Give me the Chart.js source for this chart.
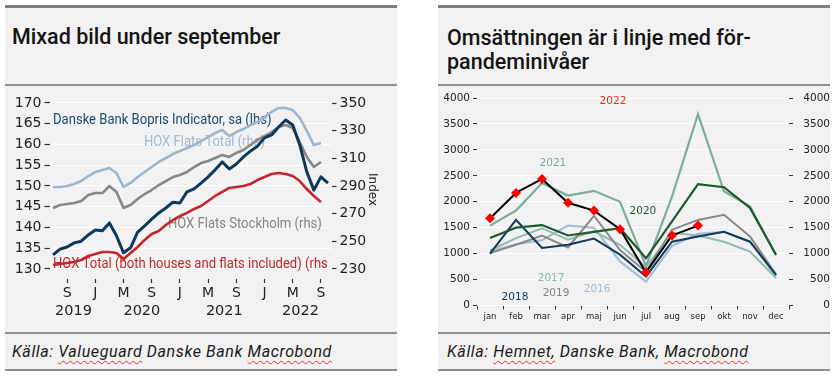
<!DOCTYPE html>
<html>
<head>
<meta charset="utf-8">
<script src="https://cdn.jsdelivr.net/npm/chart.js@4.4.0/dist/chart.umd.min.js"></script>
<style>
html, body { margin: 0; padding: 0; background: #fff; width: 834px; height: 376px; overflow: hidden; }
.panel { position: absolute; top: 5px; width: 392px; height: 366px; background: #f2f2f2; border-top: 3px solid #7f7f7f; box-sizing: border-box; }
.title { position: absolute; top: 17px; font-family: Roboto, sans-serif; font-weight: 500; font-size: 21.5px; line-height: 24px; color: #141414; }
.sep { position: absolute; left: 0; width: 100%; height: 2px; background: #8f8f8f; }
.box { position: absolute; left: 0; top: 79px; width: 392px; height: 244px; }
.src { position: absolute; top: 334px; font-family: Roboto, sans-serif; font-style: italic; font-size: 16px; letter-spacing: 0.6px; line-height: 20px; color: #1a1a1a; }
.src .sp { text-decoration: underline wavy #e03030; text-decoration-thickness: 1px; text-underline-offset: 3px; }
</style>
</head>
<body>
<div class="panel" style="left:5px">
  <div class="title" style="left:7px">Mixad bild under september</div>
  <div class="sep" style="top:76px"></div>
  <div class="box"><canvas id="hoxChart"></canvas></div>
  <div class="sep" style="top:324px"></div>
  <div class="src" style="left:7px">Källa: <span class="sp">Valueguard</span> Danske Bank <span class="sp">Macrobond</span></div>
  <div class="sep" style="top:361px"></div>
</div>
<div class="panel" style="left:438px">
  <div class="title" style="left:9px;top:18px">Omsättningen är i linje med för-<br>pandeminivåer</div>
  <div class="sep" style="top:76px"></div>
  <div class="box"><canvas id="salesChart"></canvas></div>
  <div class="sep" style="top:324px"></div>
  <div class="src" style="left:9px">Källa: <span class="sp">Hemnet,</span> Danske Bank, <span class="sp">Macrobond</span></div>
  <div class="sep" style="top:361px"></div>
</div>
<script>
// left chart: monthly points, Jul 2019 - Oct 2022
const hoxMonths = [
  '2019-07','2019-08','2019-09','2019-10','2019-11','2019-12',
  '2020-01','2020-02','2020-03','2020-04','2020-05','2020-06','2020-07','2020-08','2020-09','2020-10','2020-11','2020-12',
  '2021-01','2021-02','2021-03','2021-04','2021-05','2021-06','2021-07','2021-08','2021-09','2021-10','2021-11','2021-12',
  '2022-01','2022-02','2022-03','2022-04','2022-05','2022-06','2022-07','2022-08','2022-09','2022-10'
];
const tickLetters = { '01': 'J', '05': 'M', '09': 'S' };
const yearLabels = ['2019', '2020', '2021', '2022'];
const yearAt = [2.9, 12.6, 24.3, 35.1];

const bopris = [133.4,134.8,135.3,136.3,136.7,138.2,139.4,139.2,141.1,138.0,133.9,135.1,138.9,140.4,142.0,143.5,144.7,146.1,145.9,148.6,
  149.3,150.7,152.2,153.9,155.8,154.1,155.3,157.0,158.4,159.6,161.6,162.3,164.2,165.9,164.7,159.9,153.4,149.0,152.2,150.7];
const hoxFlatsTotal = [289.3,289.3,290.0,291.4,293.6,297.2,300.1,301.6,303.0,299.4,289.3,292.2,296.5,300.1,303.7,307.4,310.2,313.1,315.3,317.5,
  319.6,322.5,325.4,328.3,330.5,326.1,329.0,331.2,334.1,336.3,339.9,343.5,346.4,346.4,344.9,339.2,329.8,319.6,321.1];
const hoxFlatsSthlm = [274.1,276.3,277.0,277.7,279.2,283.5,284.9,284.9,290.0,285.7,274.1,276.3,280.6,284.2,287.1,290.7,293.6,296.5,298.0,300.1,
  303.7,306.6,308.1,310.2,312.4,311.0,313.9,316.0,319.6,323.3,326.1,329.0,332.7,334.1,331.9,321.8,311.0,303.7,307.4];
const hoxTotal = [232.9,233.6,234.3,235.1,236.5,239.4,240.8,242.3,242.3,241.6,237.2,241.6,245.9,251.0,255.3,257.5,261.8,265.3,268.3,270.5,
  273.4,275.5,279.2,282.8,285.7,288.6,289.3,290.0,291.4,294.3,296.5,298.7,299.4,298.7,297.2,293.6,287.8,282.8,278.4];

// right chart: sold homes per month
const salesMonths = ['jan','feb','mar','apr','maj','jun','jul','aug','sep','okt','nov','dec'];
const sales2016 = [1040, 1180, 1260, 1540, 1500, 850, 460, 1150, 1380, 1420, 1230, 560];
const sales2017 = [1060, 1300, 1490, 1270, 1430, 1170, 740, 1400, 1350, 1230, 1040, 530];
const sales2018 = [1000, 1650, 1110, 1170, 1290, 980, 560, 1230, 1330, 1420, 1230, 590];
const sales2019 = [1010, 1170, 1350, 1120, 1730, 1070, 650, 1460, 1650, 1750, 1330, 600];
const sales2020 = [1300, 1500, 1550, 1350, 1420, 1490, 910, 1620, 2340, 2280, 1880, 980];
const sales2021 = [1540, 1830, 2360, 2120, 2210, 2000, 760, 2100, 3690, 2200, 1910, 970];
const sales2022 = [1680, 2170, 2440, 1980, 1830, 1470, 640, 1350, 1540];

const TICK_FONT = 'DejaVu Sans';

const textPlugin = {
  id: 'textLabels',
  beforeDatasetsDraw(chart, args, opts) {
    if (opts.layer !== 'under') return;
    drawItems(chart, opts);
  },
  afterDatasetsDraw(chart, args, opts) {
    if (opts.layer !== 'over') return;
    drawItems(chart, opts);
  },
  afterDraw(chart, args, opts) {
    if (!opts.years) return;
    const ctx = chart.ctx, x = chart.scales.x;
    ctx.save();
    ctx.font = '14.5px ' + TICK_FONT;
    ctx.fillStyle = '#222';
    ctx.textAlign = 'center';
    ctx.textBaseline = 'middle';
    opts.years.forEach(function(y, i) { ctx.fillText(y, x.getPixelForValue(opts.yearAt[i]), x.top + 32); });
    ctx.restore();
  }
};

function drawItems(chart, opts) {
  const ctx = chart.ctx, x = chart.scales.x, y = chart.scales[opts.axis];
  const sq = opts.squeeze || 1;
  ctx.save();
  ctx.font = opts.font;
  ctx.textAlign = opts.align;
  ctx.textBaseline = 'middle';
  opts.items.forEach(function(it) {
    ctx.save();
    ctx.translate(x.getPixelForValue(it.at), y.getPixelForValue(it.value));
    ctx.scale(sq, 1);
    ctx.fillStyle = it.color;
    ctx.fillText(it.text, 0, 0);
    ctx.restore();
  });
  ctx.restore();
}

function initHoxChart() {
  const ctx = document.getElementById('hoxChart').getContext('2d');
  const isMajor = function(i) { return !!tickLetters[(hoxMonths[i] || '').slice(5)]; };
  new Chart(ctx, {
    type: 'line',
    data: { labels: hoxMonths, datasets: [
      { label: 'Danske Bank Bopris Indicator, sa (lhs)', data: bopris, yAxisID: 'yL', borderColor: '#0d3a5c', borderWidth: 3 },
      { label: 'HOX Flats Total (rhs)', data: hoxFlatsTotal, yAxisID: 'yR', borderColor: '#9db5cd', borderWidth: 2.6 },
      { label: 'HOX Flats Stockholm (rhs)', data: hoxFlatsSthlm, yAxisID: 'yR', borderColor: '#878787', borderWidth: 2.6 },
      { label: 'HOX Total (both houses and flats included) (rhs)', data: hoxTotal, yAxisID: 'yR', borderColor: '#c1272d', borderWidth: 2.6 }
    ] },
    options: {
      responsive: true, maintainAspectRatio: false, animation: false,
      layout: { padding: { top: 13, left: 0, right: 0, bottom: 0 } },
      elements: { point: { radius: 0 }, line: { tension: 0, borderJoinStyle: 'round' } },
      plugins: {
        legend: { display: false }, tooltip: { enabled: false },
        textLabels: {
          layer: 'under', axis: 'yL', align: 'left', font: '14.5px Roboto', squeeze: 0.9,
          years: yearLabels, yearAt: yearAt,
          items: [
            { text: 'Danske Bank Bopris Indicator, sa (lhs)', at: 0, value: 165.9, color: '#1b4a70' },
            { text: 'HOX Flats Total (rhs)', at: 12.9, value: 160.5, color: '#a3b9cf' },
            { text: 'HOX Flats Stockholm (rhs)', at: 16.3, value: 140.8, color: '#858585' },
            { text: 'HOX Total (both houses and flats included) (rhs', at: 0, value: 131.0, color: '#c1272d' }
          ]
        }
      },
      scales: {
        x: {
          offset: true,
          grid: { offset: false, drawOnChartArea: false, tickLength: 4, tickWidth: 1.2,
            tickColor: function(c) { return isMajor(c.index) ? '#333' : 'rgba(0,0,0,0)'; } },
          border: { display: false },
          ticks: { autoSkip: false, maxRotation: 0, padding: 2, color: '#222', font: { family: TICK_FONT, size: 14 },
            callback: function(v, i) { return tickLetters[hoxMonths[i].slice(5)] || ''; } },
          afterFit: function(s) { s.height = 52; }
        },
        yL: {
          position: 'left', min: 127.59, max: 170.72,
          grid: { color: '#ffffff', lineWidth: 1, tickColor: '#333', tickLength: 5, tickWidth: 1.2 },
          border: { display: false },
          ticks: { stepSize: 5, includeBounds: false, padding: 3, color: '#222', font: { family: TICK_FONT, size: 14 } },
          afterFit: function(s) { s.width = 44.5; }
        },
        yR: {
          position: 'right', min: 222.77, max: 352.17,
          grid: { drawOnChartArea: false, tickColor: '#333', tickLength: 5, tickWidth: 1.2 },
          border: { display: false },
          ticks: { stepSize: 10, includeBounds: false, padding: 3, color: '#222', font: { family: TICK_FONT, size: 14 },
            callback: function(v) { return v % 20 === 10 ? v : ''; } },
          title: { display: true, text: 'Index', color: '#222', font: { family: TICK_FONT, size: 12 }, padding: { top: 18, bottom: 0 } },
          afterFit: function(s) { s.width = 65.5; }
        }
      }
    },
    plugins: [textPlugin]
  });
}

function initSalesChart() {
  const ctx = document.getElementById('salesChart').getContext('2d');
  const line = function(label, data, color, w) {
    return { label: label, data: data, borderColor: color, borderWidth: w || 2, pointRadius: 0 };
  };
  const plain = function(v) { return String(v); };
  new Chart(ctx, {
    type: 'line',
    data: { labels: salesMonths, datasets: [
      { label: '2022', data: sales2022, borderColor: '#000000', borderWidth: 2, pointStyle: 'rectRot', pointRadius: 5,
        pointBackgroundColor: '#ff0000', pointBorderColor: '#ff0000', pointBorderWidth: 0 },
      line('2020', sales2020, '#1d5a2c', 2.2),
      line('2021', sales2021, '#7aad9f', 2.2),
      line('2018', sales2018, '#0f3b5c', 2),
      line('2019', sales2019, '#8a8a8a', 2),
      line('2017', sales2017, '#8fbcb0', 2),
      line('2016', sales2016, '#a8bdd2', 2.2)
    ] },
    options: {
      responsive: true, maintainAspectRatio: false, animation: false,
      layout: { padding: { top: 11, left: 0, right: 0, bottom: 0 } },
      elements: { line: { tension: 0 } },
      plugins: {
        legend: { display: false }, tooltip: { enabled: false },
        textLabels: {
          layer: 'over', axis: 'y', align: 'center', font: '10.5px ' + TICK_FONT,
          items: [
            { text: '2022', at: 4.73, value: 3932, color: '#e0301e' },
            { text: '2021', at: 2.42, value: 2734, color: '#78ab9e' },
            { text: '2020', at: 5.88, value: 1826, color: '#1d5a2c' },
            { text: '2017', at: 2.35, value: 531, color: '#8cbaae' },
            { text: '2019', at: 2.54, value: 242, color: '#808080' },
            { text: '2016', at: 4.12, value: 319, color: '#a3b9cf' },
            { text: '2018', at: 0.96, value: 164, color: '#0f3b5c' }
          ]
        }
      },
      scales: {
        x: {
          offset: true,
          grid: { offset: true, drawOnChartArea: false, tickLength: 4, tickColor: '#333', tickWidth: 1 },
          border: { display: false },
          ticks: { autoSkip: false, maxRotation: 0, padding: 2, color: '#222', font: { family: TICK_FONT, size: 8.5 } },
          afterFit: function(s) { s.height = 25.5; }
        },
        y: {
          position: 'left', min: 0, max: 4000,
          grid: { color: '#ffffff', lineWidth: 1, tickColor: '#333', tickLength: 4 },
          border: { display: false },
          ticks: { stepSize: 500, padding: 3, color: '#222', font: { family: TICK_FONT, size: 10.5 }, callback: plain },
          afterFit: function(s) { s.width = 39; }
        },
        y2: {
          position: 'right', min: 0, max: 4000,
          grid: { drawOnChartArea: false, tickColor: '#333', tickLength: 4 },
          border: { display: false },
          ticks: { stepSize: 500, padding: 4, crossAlign: 'far', color: '#222', font: { family: TICK_FONT, size: 10.5 }, callback: plain },
          afterFit: function(s) { s.width = 41; }
        }
      }
    },
    plugins: [textPlugin]
  });
}

document.addEventListener('DOMContentLoaded', function() {
  initHoxChart();
  initSalesChart();
});
</script>
</body>
</html>
